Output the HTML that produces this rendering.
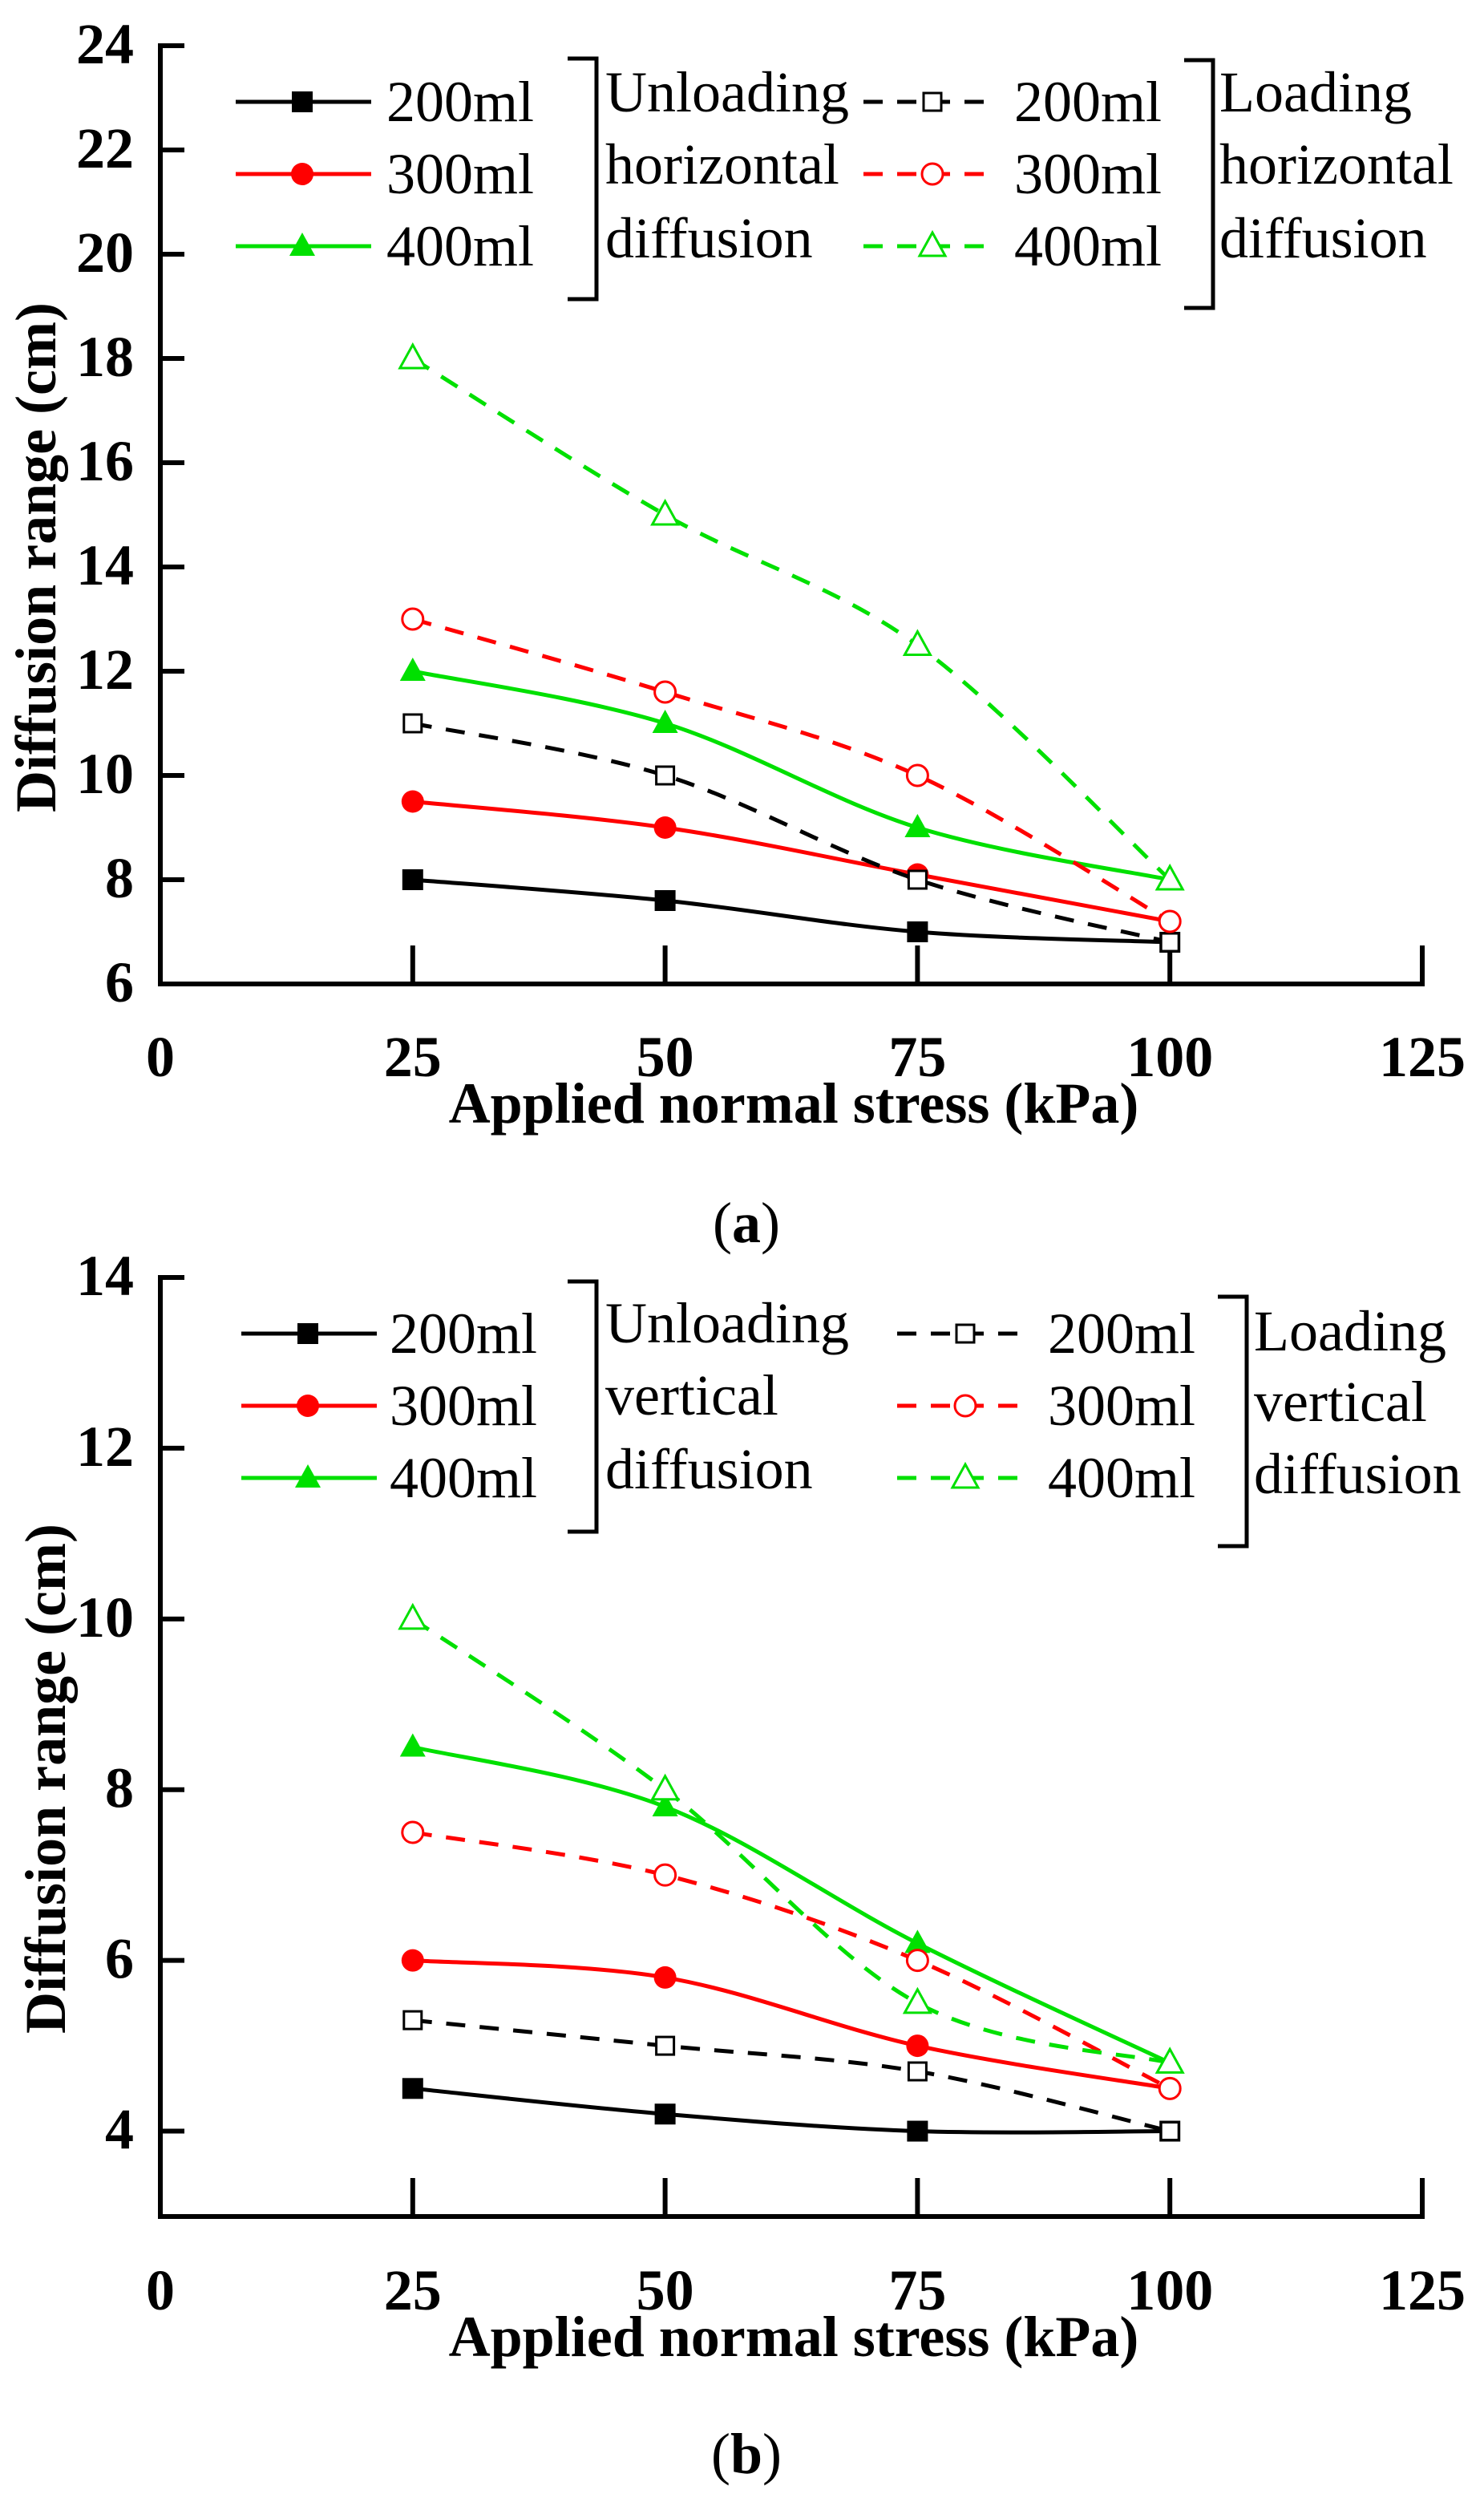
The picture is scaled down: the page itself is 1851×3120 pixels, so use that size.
<!DOCTYPE html>
<html><head><meta charset="utf-8"><style>
html,body{margin:0;padding:0;background:#fff;}
svg{display:block;}
text{font-family:"Liberation Serif",serif;}
.tk{font-weight:bold;font-size:72px;}
.lg{font-size:72px;}
</style></head><body>
<svg id="s" width="1851" height="3120" viewBox="0 0 1851 3120" xmlns="http://www.w3.org/2000/svg"></svg>
<script>
const S=document.getElementById('s');let h='';
const X=v=>200+v*12.592;
function smooth(p){let d=`M${p[0][0]},${p[0][1]}`;for(let i=0;i<p.length-1;i++){const p0=p[i-1]||p[i],p1=p[i],p2=p[i+1],p3=p[i+2]||p2;const t=0.5/3;
d+=` C${p1[0]+(p2[0]-p0[0])*t},${p1[1]+(p2[1]-p0[1])*t} ${p2[0]-(p3[0]-p1[0])*t},${p2[1]-(p3[1]-p1[1])*t} ${p2[0]},${p2[1]}`;}return d;}
function mk(type,col,x,y){
 if(type=='sf')return `<rect x="${x-13}" y="${y-13}" width="26" height="26" fill="${col}"/>`;
 if(type=='so')return `<rect x="${x-11}" y="${y-11}" width="22" height="22" fill="#fff" stroke="${col}" stroke-width="3"/>`;
 if(type=='cf')return `<circle cx="${x}" cy="${y}" r="14" fill="${col}"/>`;
 if(type=='co')return `<circle cx="${x}" cy="${y}" r="13" fill="#fff" stroke="${col}" stroke-width="3"/>`;
 if(type=='tf')return `<polygon points="${x},${y-17} ${x+16},${y+12} ${x-16},${y+12}" fill="${col}"/>`;
 return `<polygon points="${x},${y-17} ${x+16},${y+12} ${x-16},${y+12}" fill="#fff" stroke="${col}" stroke-width="3"/>`;
}
const K='#000',R='#ff0000',G='#00e000';
const series=[['sf',K,0],['cf',R,0],['tf',G,0],['so',K,1],['co',R,1],['to',G,1]];
function panel(top,bot,vmin,vmax,step,data,yl,legY,cap,capY,lab,L1,L2,legXs){
 const Y=v=>bot-(v-vmin)*(bot-top)/(vmax-vmin);
 h+=`<path d="M230,${top} H200 V${bot} H1774 V${bot-48}" fill="none" stroke="#000" stroke-width="6"/>`;
 for(const v of data.ticks){const y=Y(v);if(v>vmin&&v<vmax)h+=`<line x1="200" y1="${y}" x2="230" y2="${y}" stroke="#000" stroke-width="6"/>`;}
 for(const v of data.ticks){h+=`<text class="tk" x="167" y="${Y(v)+22}" text-anchor="end">${v}</text>`;}
 for(let v=25;v<=100;v+=25)h+=`<line x1="${X(v)}" y1="${bot}" x2="${X(v)}" y2="${bot-48}" stroke="#000" stroke-width="6"/>`;
 for(let v=0;v<=125;v+=25)h+=`<text class="tk" x="${X(v)}" y="${lab+22}" text-anchor="middle">${v}</text>`;
 h+=`<text class="tk" x="990" y="${lab+80}" text-anchor="middle">Applied normal stress (kPa)</text>`;
 h+=`<text class="tk" transform="translate(${yl[0]+24},${yl[1]}) rotate(-90)" text-anchor="middle">Diffusion range (cm)</text>`;
 h+=`<text class="tk" x="931" y="${capY+24}" text-anchor="middle" style="font-weight:normal">(<tspan font-weight="bold">${cap}</tspan>)</text>`;
 series.forEach((s,i)=>{const pts=data.v[i].map((v,j)=>[X(25*(j+1)),Y(v)]);
  h+=`<path d="${smooth(pts)}" fill="none" stroke="${s[1]}" stroke-width="5" ${s[2]?'stroke-dasharray="24 18"':''}/>`;
  pts.forEach(p=>h+=mk(s[0],s[1],p[0],p[1]));});
 const [l1x0,l1x1,l1m,l1t,b1x,b1t,b1b,t1x,r1y,l2x0,l2x1,l2m,l2t,b2x,b2t,b2b,t2x,r2y]=legXs;
 series.forEach((s,i)=>{const g=i<3;const y=(g?legY:r2y)[i%3];const x0=g?l1x0:l2x0,x1=g?l1x1:l2x1,m=g?l1m:l2m,tx=g?l1t:l2t;
  h+=`<line x1="${x0}" y1="${y}" x2="${x1}" y2="${y}" stroke="${s[1]}" stroke-width="5" ${s[2]?'stroke-dasharray="24 18"':''}/>`;
  h+=mk(s[0],s[1],m,y);
  h+=`<text class="lg" x="${tx}" y="${y+24}">${['200ml','300ml','400ml'][i%3]}</text>`;});
 h+=`<path d="M${b1x},${b1t} H${b1x+36} V${b1b} H${b1x}" fill="none" stroke="#000" stroke-width="5"/>`;
 h+=`<path d="M${b2x},${b2t} H${b2x+36} V${b2b} H${b2x}" fill="none" stroke="#000" stroke-width="5"/>`;
 L1.forEach((t,i)=>h+=`<text class="lg" x="${t1x}" y="${r1y[i]+24}">${t}</text>`);
 L2.forEach((t,i)=>h+=`<text class="lg" x="${t2x}" y="${data.t2[i]+24}">${t}</text>`);
}
panel(57,1227,6,24,2,{ticks:[6,8,10,12,14,16,18,20,22,24],
 v:[[8,7.6,7,6.8],[9.5,9,8.1,7.2],[12,11,9,8],[11,10,8,6.8],[13,11.6,10,7.2],[18,15,12.5,8]],t2:[115,205,297]},
 [45,695],[127,217,307],'a',1525,1320,['Unloading','horizontal','diffusion'],['Loading','horizontal','diffusion'],
 [294,463,377,482,708,73,373,755,[115,205,297],1077,1243,1163,1265,1477,75,384,1521,[127,217,307]]);
panel(1593,2764,3,14,1,{ticks:[4,6,8,10,12,14],
 v:[[4.5,4.2,4,4],[6,5.8,5,4.5],[8.5,7.8,6.2,4.8],[5.3,5,4.7,4],[7.5,7,6,4.5],[10,8,5.5,4.8]],t2:[1660,1748,1838]},
 [57,2218],[1663,1753,1843],'b',3060,2858,['Unloading','vertical','diffusion'],['Loading','vertical','diffusion'],
 [301,470,384,486,708,1598,1910,755,[1650,1740,1832],1119,1287,1204,1307,1519,1617,1928,1564,[1663,1753,1843]]);
S.innerHTML=h;
</script>
</body></html>
